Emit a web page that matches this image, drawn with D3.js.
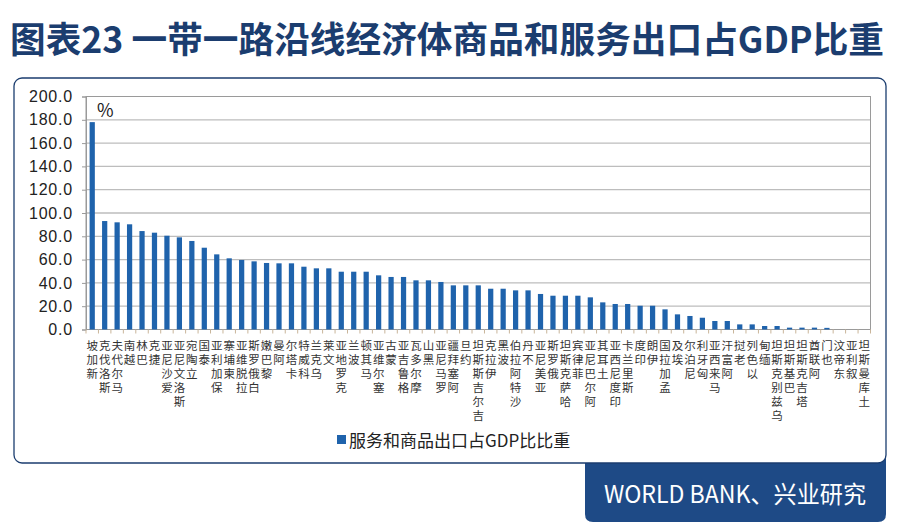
<!DOCTYPE html>
<html>
<head>
<meta charset="utf-8">
<script src="https://cdnjs.cloudflare.com/ajax/libs/d3/7.8.5/d3.min.js"></script>
<style>
  body { margin: 0; background: #fff; }
  text { font-family: "Noto Sans CJK SC", "Noto Sans", sans-serif; }
</style>
</head>
<body>
<script>
// categories, left to right
var countries = ["新加坡","斯洛伐克","马尔代夫","越南","巴林","捷克","爱沙尼亚","斯洛文尼亚","立陶宛","泰国",
  "保加利亚","柬埔寨","拉脱维亚","白俄罗斯","黎巴嫩","阿曼","卡塔尔","科威特","乌克兰","文莱",
  "克罗地亚","波兰","马其顿","塞尔维亚","蒙古","格鲁吉亚","摩尔多瓦","黑山","罗马尼亚","阿塞拜疆",
  "约旦","吉尔吉斯斯坦","伊拉克","波黑","沙特阿拉伯","不丹","亚美尼亚","俄罗斯","哈萨克斯坦","菲律宾",
  "阿尔巴尼亚","土耳其","印度尼西亚","斯里兰卡","印度","伊朗","孟加拉国","埃及","尼泊尔","匈牙利",
  "马来西亚","阿富汗","老挝","以色列","缅甸","乌兹别克斯坦","巴基斯坦","塔吉克斯坦","阿联酋","也门",
  "东帝汶","叙利亚","土库曼斯坦"];

// 服务和商品出口占GDP比重 (%)
var shares = [178, 93.1, 92.0, 90.3, 84.5, 83.1, 80.5, 79.1, 76.0, 70.2,
  64.5, 61.1, 59.7, 58.5, 57.1, 56.8, 56.8, 53.9, 52.5, 52.5,
  49.6, 49.6, 49.6, 46.5, 45.1, 45.1, 42.2, 42.2, 40.8, 37.9,
  37.9, 37.9, 35.0, 35.0, 33.6, 33.6, 30.5, 29.0, 29.0, 29.0,
  27.6, 23.3, 21.9, 21.9, 20.4, 20.4, 17.3, 13.0, 11.6, 10.1,
  7.3, 7.3, 4.4, 4.4, 3.0, 3.0, 1.6, 1.6, 1.6, 1.4,
  null, null, null];

var yTicks = [0, 20, 40, 60, 80, 100, 120, 140, 160, 180, 200];

var seriesName = "服务和商品出口占GDP比比重";
var titleText = "图表23 一带一路沿线经济体商品和服务出口占GDP比重";
var sourceText = "WORLD BANK、兴业研究";

var W = 900, H = 532;
var navy = "#1b3d6f", tabBlue = "#1e4a86", barBlue = "#1f63ac", gridGray = "#bdbdbd";

var svg = d3.select("body").append("svg")
    .attr("width", W)
    .attr("height", H);

// title
svg.append("text")
    .attr("x", 10)
    .attr("y", 53)
    .attr("textLength", 874)
    .attr("lengthAdjust", "spacingAndGlyphs")
    .style("font-size", "36px")
    .style("font-weight", "bold")
    .attr("fill", navy)
    .text(titleText);

// source tab
svg.append("path")
    .attr("d", "M585,455 H886 V514 Q886,522 878,522 H593 Q585,522 585,514 Z")
    .attr("fill", tabBlue);
svg.append("text")
    .attr("x", 604)
    .attr("y", 503)
    .attr("textLength", 262)
    .attr("lengthAdjust", "spacingAndGlyphs")
    .style("font-size", "24px")
    .attr("fill", "#fff")
    .text(sourceText);

// chart box
svg.append("rect")
    .attr("x", 14).attr("y", 78)
    .attr("width", 872).attr("height", 385)
    .attr("rx", 8)
    .attr("fill", "#fff")
    .attr("stroke", navy)
    .attr("stroke-width", 1.3);

var plotL = 86, plotR = 870.5, plotT = 96.5, plotB = 329.5;

var x = d3.scaleBand()
    .domain(countries)
    .range([plotL, plotR])
    .paddingInner(0.58)
    .paddingOuter(0.29);

var y = d3.scaleLinear()
    .domain([0, 200])
    .range([plotB, plotT]);

// gridlines
svg.append("g").selectAll("line")
    .data(yTicks.filter(function(d) { return d > 0 && d < 200; }))
    .enter().append("line")
    .attr("x1", plotL).attr("x2", plotR)
    .attr("y1", function(d) { return y(d); })
    .attr("y2", function(d) { return y(d); })
    .attr("stroke", gridGray)
    .attr("stroke-width", 1.3);

// plot frame
svg.append("rect")
    .attr("x", plotL).attr("y", plotT)
    .attr("width", plotR - plotL).attr("height", plotB - plotT)
    .attr("fill", "none")
    .attr("stroke", "#9a9a9a")
    .attr("stroke-width", 1);

// bars
svg.append("g").selectAll("rect")
    .data(countries.map(function(c, i) { return {key: c, value: shares[i]}; })
      .filter(function(d) { return d.value != null; }))
    .enter().append("rect")
    .attr("x", function(d) { return x(d.key); })
    .attr("width", x.bandwidth())
    .attr("y", function(d) { return y(d.value); })
    .attr("height", function(d) { return plotB - y(d.value); })
    .attr("fill", barBlue);

// y axis
var yAxis = svg.append("g")
    .attr("transform", "translate(" + plotL + ",0)")
    .call(d3.axisLeft(y).tickValues(yTicks).tickSize(4).tickPadding(9).tickFormat(d3.format(".1f")));
yAxis.select(".domain").attr("stroke", "#9a9a9a");
yAxis.selectAll(".tick line").attr("stroke", "#9a9a9a");
yAxis.selectAll("text")
    .style("font-family", "'Liberation Sans', sans-serif")
    .style("font-size", "16px")
    .style("letter-spacing", "0.8px")
    .attr("fill", "#222");

// x axis ticks at slot boundaries
var step = x.step();
svg.append("g").selectAll("line")
    .data(d3.range(countries.length + 1))
    .enter().append("line")
    .attr("x1", function(i) { return plotL + i * step; })
    .attr("x2", function(i) { return plotL + i * step; })
    .attr("y1", plotB).attr("y2", plotB + 4)
    .attr("stroke", "#c9b59a");

// vertical category labels (upright characters, read bottom to top)
var labels = svg.append("g").selectAll("text")
    .data(countries)
    .enter().append("text")
    .attr("text-anchor", "middle")
    .style("font-size", "11.5px")
    .attr("fill", "#333");
labels.each(function(name) {
  var cx = x(name) + x.bandwidth() / 2;
  var chars = name.split("").reverse();
  d3.select(this).selectAll("tspan")
    .data(chars)
    .enter().append("tspan")
    .attr("x", cx)
    .attr("y", function(c, k) { return 350 + k * 14; })
    .text(function(c) { return c; });
});

// unit
svg.append("text")
    .attr("x", 97).attr("y", 117)
    .style("font-size", "18px")
    .attr("fill", "#222")
    .text("%");

// legend
svg.append("rect")
    .attr("x", 337).attr("y", 435)
    .attr("width", 9).attr("height", 9)
    .attr("fill", barBlue);
svg.append("text")
    .attr("x", 349).attr("y", 447)
    .style("font-size", "17px")
    .attr("fill", "#222")
    .text(seriesName);
</script>
</body>
</html>
